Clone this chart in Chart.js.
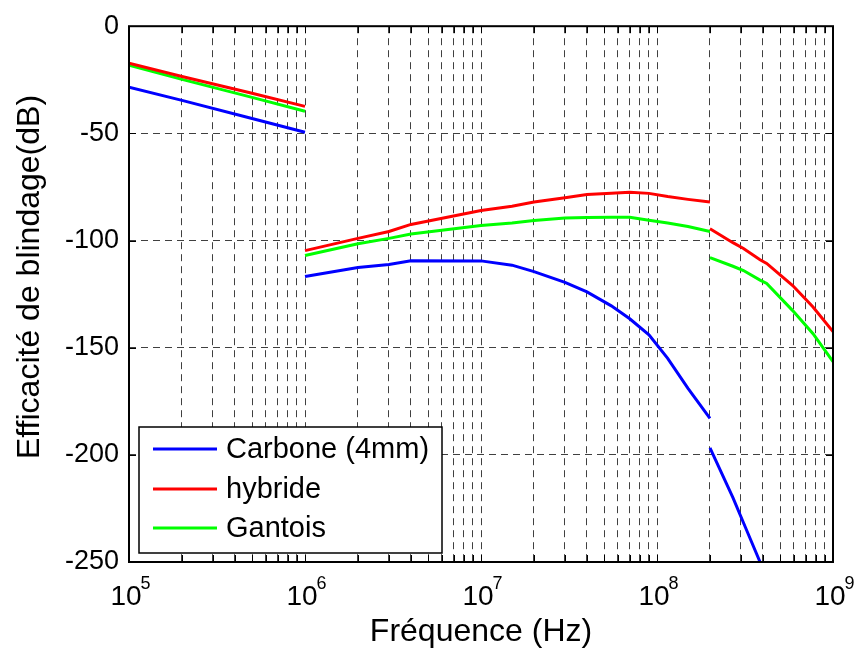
<!DOCTYPE html>
<html>
<head>
<meta charset="utf-8">
<script src="https://cdn.jsdelivr.net/npm/chart.js@4"></script>
<style>
  html, body { margin: 0; padding: 0; background: #fff; }
  #wrap { width: 858px; height: 650px; }
</style>
</head>
<body>
<div id="wrap"><canvas id="myChart" width="858" height="650"></canvas></div>
<script>
// frequency points (Hz) for the three measurement bands
const seg1Freq = [1e5, 2e5, 5e5, 1e6];
const seg2Freq = [1e6, 2e6, 3e6, 4e6, 1e7, 1.5e7, 2e7, 3e7, 4e7, 5.5e7, 7e7, 9e7, 1.15e8, 1.5e8, 2e8];
const seg3Freq = [2e8, 2.7e8, 3.1e8, 3.85e8, 4.2e8, 5.9e8, 7.7e8, 1e9];

// shielding effectiveness (dB)
const carbone1 = [-28.5, -34.6, -43.1, -49.5];
const carbone2 = [-116.8, -112.6, -111.2, -109.4, -109.5, -111.5, -114.5, -119.5, -124, -130.5, -136.5, -144, -155, -169, -183];
const carbone3 = [-196.7, -220, -231.7, -250, null, null, null, null];

const hybride1 = [-17.3, -23.5, -31.3, -37.4];
const hybride2 = [-104.7, -99, -95.8, -92.5, -86, -84, -82, -80, -78.5, -78, -77.5, -78, -79.5, -80.8, -82];
const hybride3 = [-94.5, -101, -103.7, -109, -110.7, -121, -131, -142.5];

const gantois1 = [-18.2, -24.8, -33.2, -39.7];
const gantois2 = [-107, -101.5, -99, -97, -93, -91.8, -90.7, -89.5, -89.3, -89.2, -89.2, -90.5, -91.8, -93.5, -95.8];
const gantois3 = [-108, -112, -114, -118.5, -120, -132.7, -143.5, -156.5];

const xTicks = [];
for (let e = 5; e < 9; e++) {
  for (let m = 1; m < 10; m++) xTicks.push(m * Math.pow(10, e));
}
xTicks.push(1e9);
const xLabelExp = [5, 6, 7, 8, 9];
const yTicks = [0, -50, -100, -150, -200, -250];

function joinSegs(segs) {
  // null points between bands so the line breaks
  let out = [];
  segs.forEach(([fr, vals], i) => {
    if (i > 0) out.push({ x: fr[0], y: null });
    fr.forEach((f, k) => out.push({ x: f, y: vals[k] }));
  });
  return out;
}

const series = [
  { label: 'Carbone (4mm)', color: '#0000ff', data: joinSegs([[seg1Freq, carbone1], [seg2Freq, carbone2], [seg3Freq, carbone3]]) },
  { label: 'hybride', color: '#ff0000', data: joinSegs([[seg1Freq, hybride1], [seg2Freq, hybride2], [seg3Freq, hybride3]]) },
  { label: 'Gantois', color: '#00ff00', data: joinSegs([[seg1Freq, gantois1], [seg2Freq, gantois2], [seg3Freq, gantois3]]) }
];

const FONT = '"Liberation Sans", Arial, sans-serif';

const matlabAxes = {
  id: 'matlabAxes',
  afterDraw(chart) {
    const ctx = chart.ctx;
    const a = chart.chartArea;
    const xs = chart.scales.x, ys = chart.scales.y;
    ctx.save();
    // inward tick marks
    ctx.strokeStyle = '#000';
    ctx.lineWidth = 1;
    ctx.beginPath();
    xTicks.forEach(v => {
      const px = Math.round(xs.getPixelForValue(v)) + 0.5;
      ctx.moveTo(px, a.bottom); ctx.lineTo(px, a.bottom - 7);
      ctx.moveTo(px, a.top); ctx.lineTo(px, a.top + 7);
    });
    yTicks.forEach(v => {
      const py = Math.round(ys.getPixelForValue(v)) + 0.5;
      ctx.moveTo(a.left, py); ctx.lineTo(a.left + 7, py);
      ctx.moveTo(a.right, py); ctx.lineTo(a.right - 7, py);
    });
    ctx.stroke();
    // box
    ctx.lineWidth = 2;
    ctx.strokeRect(a.left, a.top, a.right - a.left, a.bottom - a.top);

    // x tick labels 10^n
    ctx.fillStyle = '#000';
    ctx.textBaseline = 'alphabetic';
    xLabelExp.forEach(e => {
      const px = xs.getPixelForValue(Math.pow(10, e));
      ctx.font = '28px ' + FONT;
      const w1 = ctx.measureText('10').width;
      ctx.font = '18px ' + FONT;
      const w2 = ctx.measureText(String(e)).width;
      const x0 = px - (w1 + w2) / 2 + 2;
      ctx.font = '28px ' + FONT;
      ctx.textAlign = 'left';
      ctx.fillText('10', x0, 605);
      ctx.font = '18px ' + FONT;
      ctx.fillText(String(e), x0 + w1 - 1, 589);
    });

    // axis titles
    ctx.font = '32px ' + FONT;
    ctx.textAlign = 'center';
    ctx.textBaseline = 'middle';
    ctx.fillText('Fréquence (Hz)', (a.left + a.right) / 2, 632);
    ctx.save();
    ctx.translate(30, 277);
    ctx.rotate(-Math.PI / 2);
    ctx.fillText('Efficacité de blindage(dB)', 0, 0);
    ctx.restore();

    // legend
    const lx = 139, ly = 427, lw = 303, lh = 126;
    ctx.fillStyle = '#fff';
    ctx.fillRect(lx, ly, lw, lh);
    ctx.lineWidth = 1.5;
    ctx.strokeStyle = '#000';
    ctx.strokeRect(lx, ly, lw, lh);
    ctx.font = '29px ' + FONT;
    ctx.textAlign = 'left';
    ctx.textBaseline = 'middle';
    const rows = [449, 489, 528];
    chart.data.datasets.forEach((ds, i) => {
      ctx.strokeStyle = ds.borderColor;
      ctx.lineWidth = 3;
      ctx.beginPath();
      ctx.moveTo(153, rows[i]); ctx.lineTo(217, rows[i]);
      ctx.stroke();
      ctx.fillStyle = '#000';
      ctx.fillText(ds.label, 226, rows[i] + 1);
    });
    ctx.restore();
  }
};

const ctx = document.getElementById('myChart').getContext('2d');
const myChart = new Chart(ctx, {
  type: 'line',
  data: {
    datasets: series.map(s => ({
      label: s.label,
      data: s.data,
      borderColor: s.color,
      backgroundColor: s.color,
      borderWidth: 3,
      pointRadius: 0,
      tension: 0,
      spanGaps: false,
      fill: false
    }))
  },
  options: {
    responsive: false,
    animation: false,
    devicePixelRatio: 1,
    layout: { padding: { top: 26, right: 25, left: 0, bottom: 0 } },
    plugins: {
      legend: { display: false },
      tooltip: { enabled: false }
    },
    scales: {
      x: {
        type: 'logarithmic',
        min: 1e5,
        max: 1e9,
        afterBuildTicks: scale => { scale.ticks = xTicks.map(v => ({ value: v })); },
        afterFit: scale => { scale.height = 88; },
        ticks: { display: false, autoSkip: false },
        grid: { color: 'rgba(0,0,0,0.75)', lineWidth: 1, drawTicks: false },
        border: { display: false, dash: [7, 5] }
      },
      y: {
        type: 'linear',
        min: -250,
        max: 0,
        afterBuildTicks: scale => { scale.ticks = yTicks.map(v => ({ value: v })); },
        afterFit: scale => { scale.width = 129; },
        ticks: { color: '#000', font: { size: 27, family: FONT }, padding: 10 },
        grid: { color: 'rgba(0,0,0,0.75)', lineWidth: 1, drawTicks: false },
        border: { display: false, dash: [7, 5] }
      }
    }
  },
  plugins: [matlabAxes]
});
</script>
</body>
</html>
